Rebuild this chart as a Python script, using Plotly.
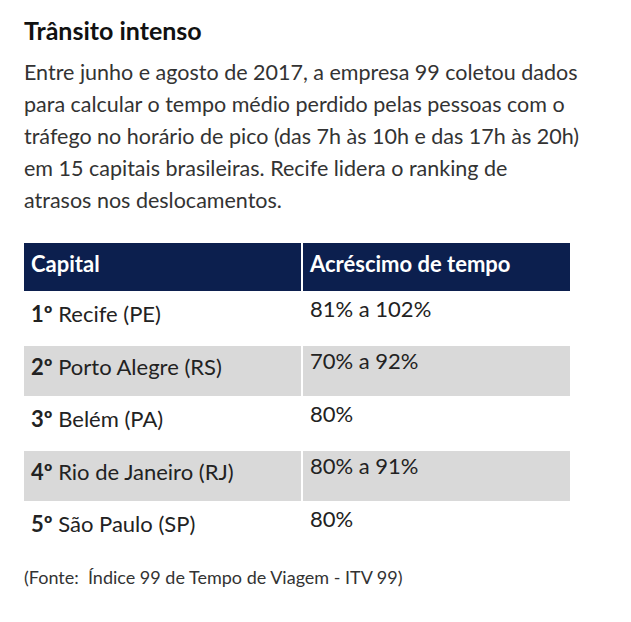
import plotly.graph_objects as go

title = "Trânsito intenso"
subtitle_lines = [
    "Entre junho e agosto de 2017, a empresa 99 coletou dados",
    "para calcular o tempo médio perdido pelas pessoas com o",
    "tráfego no horário de pico (das 7h às 10h e das 17h às 20h)",
    "em 15 capitais brasileiras. Recife lidera o ranking de",
    "atrasos nos deslocamentos.",
]
headers = ["Capital", "Acréscimo de tempo"]
ranks = ["1º", "2º", "3º", "4º", "5º"]
capitals = ["Recife (PE)", "Porto Alegre (RS)", "Belém (PA)", "Rio de Janeiro (RJ)", "São Paulo (SP)"]
increase = ["81% a 102%", "70% a 92%", "80%", "80% a 91%", "80%"]
source = "(Fonte:  Índice 99 de Tempo de Viagem - ITV 99)"

W, H = 631, 622
FONT = "Lato"
DX, DY = -8, -8
fills = ["white" if i % 2 == 0 else "#d9d9d9" for i in range(len(capitals))]

fig = go.Figure(go.Table(
    domain=dict(x=[(23 + DX) / W, (571 + DX) / W], y=[1 - (556 + DY) / H, 1 - (242 + DY) / H]),
    columnwidth=[279, 269],
    header=dict(values=[f"<b>{h}</b>" for h in headers], fill_color="#0c1f4e",
                font=dict(color="white", size=22, family=FONT), align="left",
                height=50, line=dict(color="white", width=2)),
    cells=dict(values=[[f"<b>{r}</b> {c}" for r, c in zip(ranks, capitals)], increase],
               fill_color=[fills, fills], font=dict(color="#222", size=22, family=FONT),
               align="left", height=52.5, line=dict(color="white", width=2)),
))
ann = [dict(text=f"<b>{title}</b>", x=22, y=30, font=dict(size=25, color="#111", family=FONT))]
for i, line in enumerate(subtitle_lines):
    ann.append(dict(text=line, x=22, y=72 + i * 32, font=dict(size=21.5, color="#333", family=FONT)))
ann.append(dict(text=source, x=22, y=577, font=dict(size=18, color="#333", family=FONT)))
fig.update_layout(
    width=W, height=H, margin=dict(l=0, r=0, t=0, b=0),
    paper_bgcolor="white", plot_bgcolor="white",
    annotations=[dict(a, xref="paper", yref="paper", x=(a["x"] + DX) / W, y=1 - (a["y"] + DY) / H,
                      xanchor="left", yanchor="middle", showarrow=False) for a in ann],
)
fig.write_html("out.html")
